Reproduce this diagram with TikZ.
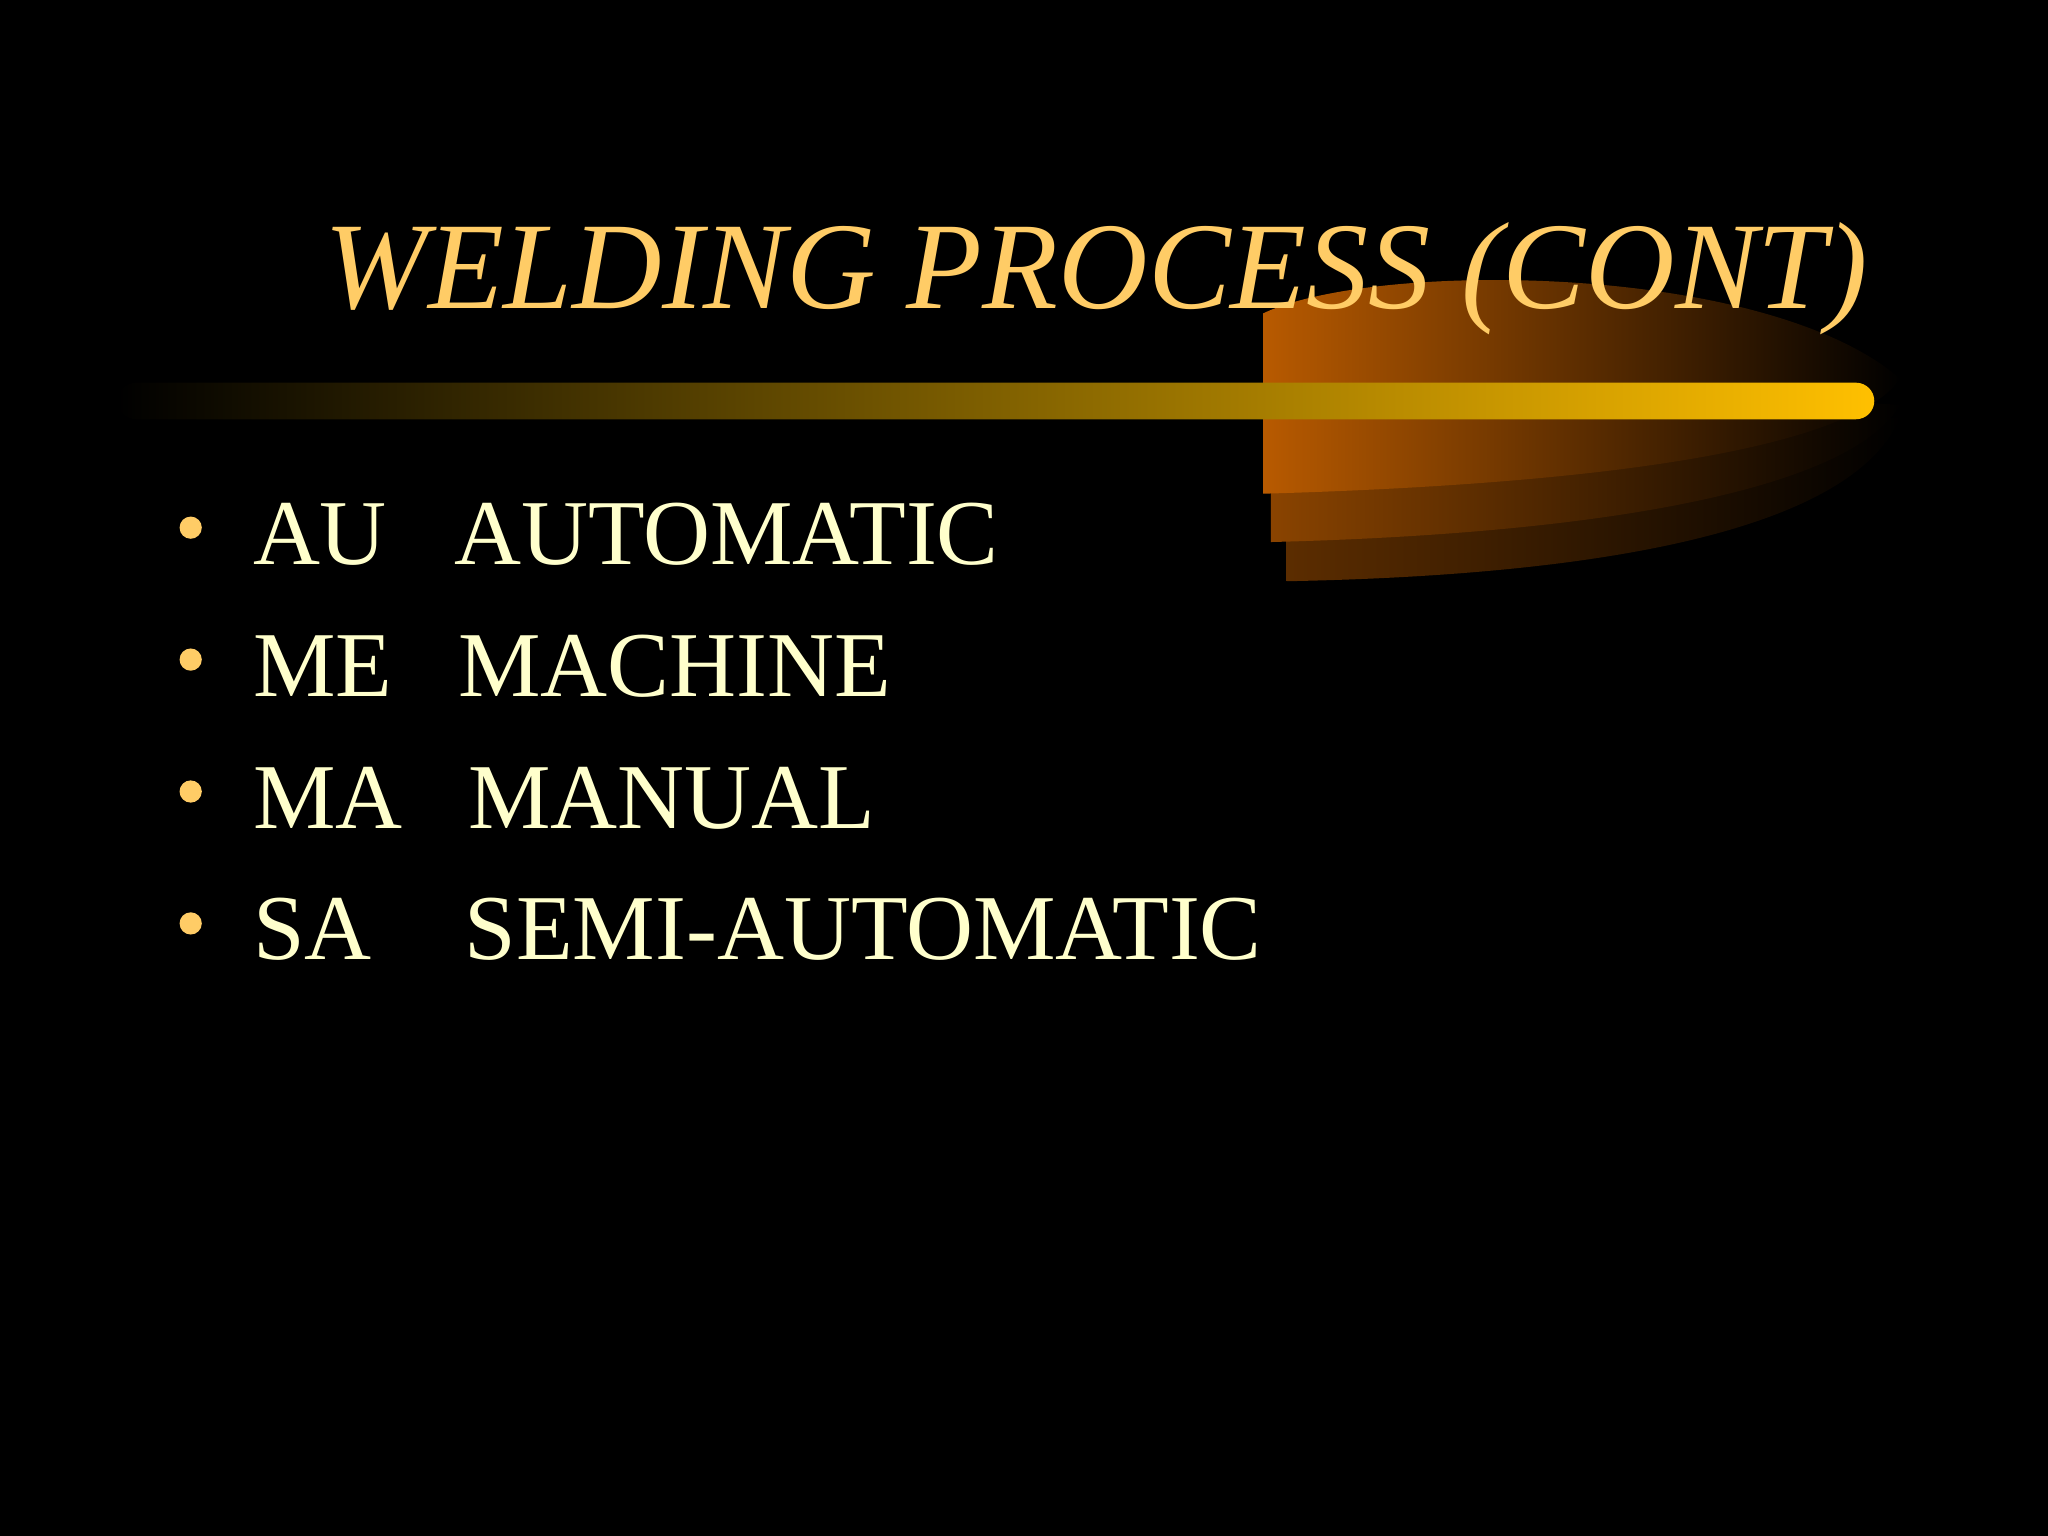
\documentclass[tikz,border=0pt]{standalone}
\usepackage{fontspec}
\setmainfont{Liberation Serif}
\definecolor{gold}{HTML}{FFC000}
\definecolor{titlec}{HTML}{FFCC66}
\definecolor{textc}{HTML}{FFFFCC}
\definecolor{orng}{HTML}{B85A00}
\begin{document}
\begin{tikzpicture}[x=0.01cm,y=-0.01cm,
  item/.style={anchor=base west,text=textc,font=\fontsize{20.2}{24}\selectfont,inner sep=0},
  dot/.style={circle,fill=titlec,minimum size=0.17cm,inner sep=0}]
\fill[black] (0,0) rectangle (1568,1176);
\useasboundingbox (0,0) rectangle (1568,1176);
% swoosh bands
\shade[left color=orng!50!black,right color=black] (985,300) -- (985,445) .. controls (1250,440) and (1420,400) .. (1455,320) -- cycle;
\shade[left color=orng!75!black,right color=black] (973,280) -- (973,415) .. controls (1250,408) and (1420,370) .. (1455,310) -- cycle;
\shade[left color=orng,right color=black] (967,240) .. controls (1050,200) and (1350,200) .. (1455,290) .. controls (1420,340) and (1250,370) .. (967,378) -- cycle;
% bar
\shade[left color=black,right color=gold] (104,293) -- (1421,293) arc[start angle=-90,end angle=90,radius=14] -- (104,321) arc[start angle=90,end angle=270,radius=14] -- cycle;
% title
\node[anchor=base west,inner sep=0,text=titlec,font=\fontsize{27}{32}\selectfont\itshape] (title) at (248,236) {WELDING PROCESS (CONT)};
% items
\foreach \i/\a/\b/\bx [count=\n] in {0/AU/AUTOMATIC/347,1/ME/MACHINE/350,2/MA/MANUAL/358,3/SA/SEMI-AUTOMATIC/355}{
  \node[dot] (d\n) at (146,{404+101*\i}) {};
  \node[item] (a\n) at (193,{432+101*\i}) {\a};
  \node[item] (b\n) at (\bx,{432+101*\i}) {\b};
}
\end{tikzpicture}
\end{document}
